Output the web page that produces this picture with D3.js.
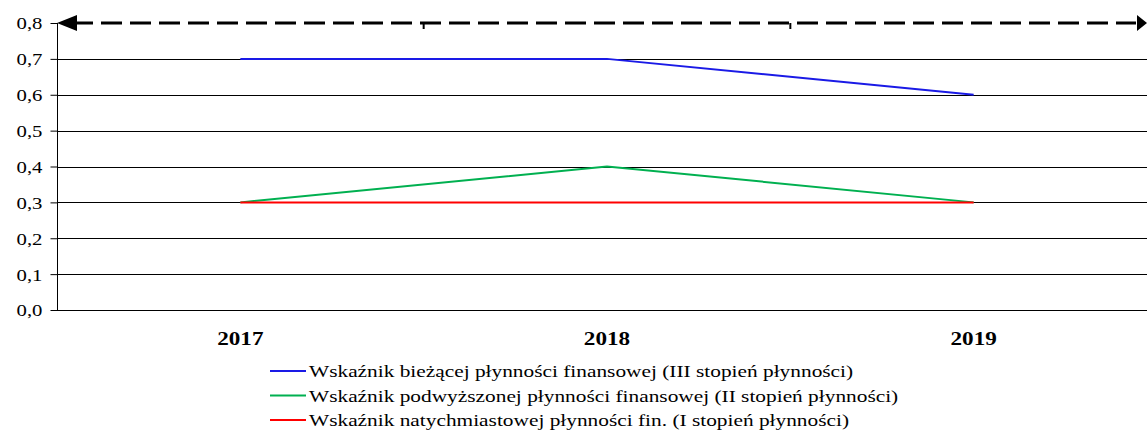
<!DOCTYPE html>
<html>
<head>
<meta charset="utf-8">
<script src="https://d3js.org/d3.v7.min.js"></script>
<style>
body { margin: 0; background: #fff; }
svg { display: block; }
text { font-family: "Liberation Serif", "Times New Roman", serif; fill: #000; }
</style>
</head>
<body>
<script>
var years = ["2017", "2018", "2019"];
var biezaca = [0.7, 0.7, 0.6];
var podwyzszona = [0.3, 0.4, 0.3];
var natychmiastowa = [0.3, 0.3, 0.3];
var yTicks = [0, 0.1, 0.2, 0.3, 0.4, 0.5, 0.6, 0.7, 0.8];
var seriesNames = [
  "Wskaźnik bieżącej płynności finansowej (III stopień płynności)",
  "Wskaźnik podwyższonej płynności finansowej (II stopień płynności)",
  "Wskaźnik natychmiastowej płynności fin. (I stopień płynności)"
];
var seriesColors = ["#1a1ae6", "#00b050", "#ff0000"];

var W = 1147, H = 436;
var SX = 1.22; // the original picture is stretched sideways
var svg = d3.select("body").append("svg").attr("width", W).attr("height", H);

var x = d3.scaleBand().domain(years).range([57, 1157]);
var y = d3.scaleLinear().domain([0, 0.8]).range([310, 23]);

function stretched(sel, px, py) {
  sel.attr("transform", function(d, i){
    return "translate(" + px(d, i) + "," + py(d, i) + ") scale(" + SX + ",1)";
  });
}

// gridlines (top one is drawn as dashed arrow)
svg.append("g").selectAll("line")
  .data(yTicks.filter(function(d){ return d < 0.8; }))
  .enter().append("line")
  .attr("x1", 57).attr("x2", W)
  .attr("y1", function(d){ return Math.round(y(d)) + 0.5; })
  .attr("y2", function(d){ return Math.round(y(d)) + 0.5; })
  .attr("stroke", "#000").attr("stroke-width", 1);

// y axis
var yAxis = d3.axisLeft(y).tickValues(yTicks).tickSize(7)
  .tickFormat(function(d){ return d3.format(".1f")(d).replace(".", ","); });
var ga = svg.append("g").attr("transform", "translate(57.5,0)").call(yAxis);
ga.attr("font-family", null).attr("font-size", null);
ga.select(".domain").attr("d", "M0," + y(0.8) + "V" + (y(0) + 0.5)).attr("stroke", "#000");
ga.selectAll(".tick line").attr("stroke", "#000");
ga.selectAll(".tick text")
  .style("font-size", "17px")
  .attr("x", null).attr("dy", "0.35em")
  .attr("transform", "translate(-15,0) scale(" + SX + ",1)");

// dashed top line with arrows
svg.append("line")
  .attr("x1", 72).attr("x2", 1136)
  .attr("y1", y(0.8)).attr("y2", y(0.8))
  .attr("stroke", "#000").attr("stroke-width", 3)
  .attr("stroke-dasharray", "21,8");
svg.append("path")
  .attr("d", "M57," + y(0.8) + "L77," + (y(0.8) - 8) + "L77," + (y(0.8) + 8) + "Z")
  .attr("fill", "#000");
svg.append("path")
  .attr("d", "M1147," + y(0.8) + "L1137," + (y(0.8) - 8) + "L1137," + (y(0.8) + 8) + "Z")
  .attr("fill", "#000");
// category boundary ticks
svg.append("g").selectAll("line")
  .data(years.slice(1))
  .enter().append("line")
  .attr("x1", function(d){ return x(d); }).attr("x2", function(d){ return x(d); })
  .attr("y1", y(0.8)).attr("y2", y(0.8) + 6)
  .attr("stroke", "#000").attr("stroke-width", 2);

// x labels
svg.append("g").selectAll("text")
  .data(years).enter().append("text")
  .attr("text-anchor", "middle")
  .style("font-size", "19px").style("font-weight", "bold")
  .text(function(d){ return d; })
  .call(stretched, function(d){ return x(d) + x.bandwidth() / 2; }, function(){ return 345; });

// series lines
var line = d3.line()
  .x(function(d, i){ return x(years[i]) + x.bandwidth() / 2; })
  .y(function(d){ return y(d); });
var allSeries = [biezaca, podwyzszona, natychmiastowa];
svg.append("g").selectAll("path")
  .data(allSeries).enter().append("path")
  .attr("d", line)
  .attr("fill", "none")
  .attr("stroke", function(d, i){ return seriesColors[i]; })
  .attr("stroke-width", 2);

// legend
var lg = svg.append("g").selectAll("g")
  .data(seriesNames).enter().append("g")
  .attr("transform", function(d, i){ return "translate(270," + (371 + i * 24.5) + ")"; });
lg.append("line").attr("x1", 0).attr("x2", 36).attr("y1", 0).attr("y2", 0)
  .attr("stroke", function(d, i){ return seriesColors[i]; }).attr("stroke-width", 2);
lg.append("text")
  .style("font-size", "17.5px")
  .text(function(d){ return d; })
  .call(stretched, function(){ return 39; }, function(){ return 6; });
</script>
</body>
</html>
